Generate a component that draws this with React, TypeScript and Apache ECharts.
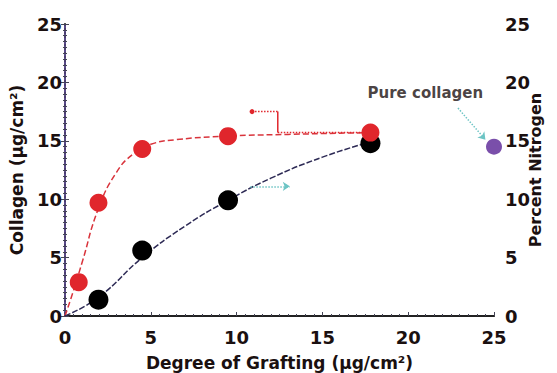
import React, { useEffect, useRef } from "react";
import * as echarts from "echarts";

const xTicks = [0, 5, 10, 15, 20, 25];
const collagenPoints = [[0.8, 2.9], [1.95, 9.7], [4.5, 14.3], [9.5, 15.4], [17.8, 15.7]];
const nitrogenPoints = [[1.95, 1.4], [4.5, 5.6], [9.5, 9.9], [17.8, 14.8]];
const pureCollagen = [[25, 14.5]];
const collagenFit = [[0, 0], [0.5, 2.2], [1, 4.6], [1.95, 9.2], [3, 12.3], [4, 13.9], [5, 14.7], [6.5, 15.1], [9.5, 15.4], [13, 15.55], [17.8, 15.7]];
const nitrogenFit = [[0, 0], [1.95, 1.6], [4.5, 5.0], [7, 7.7], [9.5, 9.9], [12, 11.8], [15, 13.6], [17.8, 14.9]];
const bracketTop = [[10.9, 17.5], [12.4, 17.5]];
const bracketStem = [[12.4, 17.5], [12.4, 15.7]];
const bracketFoot = [[12.4, 15.7], [17.8, 15.7]];
const tealArrow = [[10.8, 11.1], [13.1, 11.1]];
const labelArrow = [[22.9, 17.8], [24.5, 15.1]];
const labelPos = [[21.0, 19.1]];

const FONT = "DejaVu Sans";
const TXT = "#1a1010";
const RED = "#e0262c";

export default function App() {
  const ref = useRef<HTMLDivElement>(null);
  useEffect(() => {
    const chart = echarts.init(ref.current!, null, { renderer: "svg" });
    const axisCommon = {
      min: 0,
      max: 25,
      interval: 5,
      axisLine: { show: true, lineStyle: { color: "#222", width: 2 } },
      axisTick: { show: true, inside: true, length: 4, lineStyle: { color: "#445" } },
      minorTick: { show: true, splitNumber: 10, length: 2, lineStyle: { color: "#445" } },
      splitLine: { show: false },
      axisLabel: { fontFamily: FONT, fontWeight: "bold", fontSize: 18, color: TXT },
      nameLocation: "middle",
      nameMoveOverlap: false,
      nameTextStyle: { fontFamily: FONT, fontWeight: "bold", fontSize: 17, color: TXT },
    };
    const seg = (data: number[][], type: any) => ({
      type: "line",
      data,
      symbol: "none",
      lineStyle: { color: RED, width: 1.5, type },
      z: 3,
    });
    chart.setOption({
      animation: false,
      backgroundColor: "#fff",
      grid: { left: 65, right: 63, top: 24, bottom: 57, outerBoundsMode: "none", containLabel: false },
      xAxis: [
        {
          ...axisCommon,
          type: "value",
          name: "Degree of Grafting (µg/cm²)",
          nameGap: 38,
          axisLabel: { ...axisCommon.axisLabel, margin: 12 },
        },
        {
          type: "value",
          position: "top",
          min: 0,
          max: 25,
          interval: 5,
          axisLine: { show: true, lineStyle: { color: "#222", width: 1.5 } },
          axisTick: { show: false },
          axisLabel: { show: false },
          splitLine: { show: false },
        },
      ],
      yAxis: [
        {
          ...axisCommon,
          type: "value",
          name: "Collagen (µg/cm²)",
          nameGap: 40,
          axisLabel: { ...axisCommon.axisLabel, margin: 3 },
        },
        {
          ...axisCommon,
          type: "value",
          position: "right",
          name: "Percent Nitrogen",
          nameGap: 33,
          nameRotate: 90,
          nameTextStyle: { ...axisCommon.nameTextStyle, fontSize: 16 },
          axisLine: { show: true, lineStyle: { color: "#5a4a8a", width: 2, type: "dotted" } },
          axisLabel: { ...axisCommon.axisLabel, margin: 11 },
        },
      ],
      series: [
        {
          type: "line",
          data: collagenFit,
          smooth: true,
          symbol: "none",
          lineStyle: { color: "#d9343c", width: 1.5, type: "dashed" },
          z: 2,
        },
        {
          type: "line",
          data: nitrogenFit,
          smooth: true,
          symbol: "none",
          lineStyle: { color: "#2d2a55", width: 1.5, type: [6, 2] },
          z: 2,
        },
        seg(bracketTop, "dotted"),
        seg(bracketStem, "solid"),
        seg(bracketFoot, "dotted"),
        {
          type: "scatter",
          data: [bracketTop[0]],
          symbol: "circle",
          symbolSize: 5,
          itemStyle: { color: RED, opacity: 1 },
        },
        {
          type: "scatter",
          data: nitrogenPoints,
          symbolSize: 20,
          itemStyle: { color: "#000", opacity: 1 },
          z: 4,
        },
        {
          type: "scatter",
          data: collagenPoints,
          symbolSize: 18,
          itemStyle: { color: RED, opacity: 1 },
          z: 5,
        },
        {
          type: "scatter",
          yAxisIndex: 1,
          data: pureCollagen,
          symbolSize: 16,
          itemStyle: { color: "#7a4faa", opacity: 1 },
          z: 5,
        },
        {
          type: "scatter",
          data: labelPos,
          symbolSize: 0,
          label: {
            show: true,
            position: "inside",
            formatter: "Pure collagen",
            fontFamily: FONT,
            fontWeight: "bold",
            fontSize: 15,
            color: TXT,
          },
        },
        {
          type: "line",
          data: [],
          markLine: {
            silent: true,
            symbol: ["none", "arrow"],
            symbolSize: 7,
            label: { show: false },
            lineStyle: { color: "#6cc4c4", width: 1.5, type: "dotted" },
            data: [
              [{ coord: tealArrow[0] }, { coord: tealArrow[1] }],
              [{ coord: labelArrow[0] }, { coord: labelArrow[1] }],
            ],
          },
        },
      ],
    });
    return () => chart.dispose();
  }, []);
  return <div ref={ref} style={{ width: 557, height: 373, position: "absolute", left: 0, top: 0 }} />;
}
